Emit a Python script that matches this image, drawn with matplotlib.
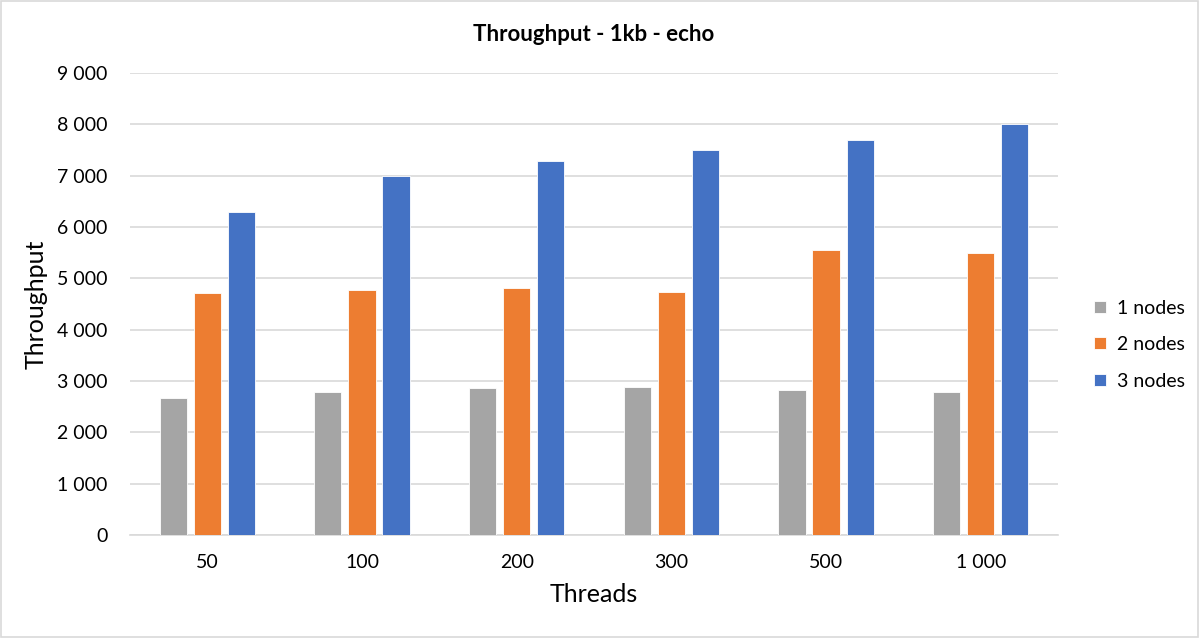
import numpy as np
import matplotlib.pyplot as plt
from matplotlib.ticker import FuncFormatter
from matplotlib.patches import Rectangle

plt.rcParams['font.family'] = ['Lato', 'DejaVu Sans']

# Data
threads = ['50', '100', '200', '300', '500', '1 000']
one_node = [2660, 2790, 2860, 2890, 2830, 2790]
two_nodes = [4710, 4780, 4810, 4740, 5550, 5490]
three_nodes = [6290, 7000, 7290, 7500, 7690, 8000]

series = [('1 nodes', one_node, '#a5a5a5'),
          ('2 nodes', two_nodes, '#ed7d31'),
          ('3 nodes', three_nodes, '#4472c4')]

fig = plt.figure(figsize=(12, 6.38), dpi=100)
ax = fig.add_axes([0.1083, 0.1614, 0.7734, 0.7242])

x = np.arange(len(threads))
width = 0.175
step = 0.22
for i, (name, vals, color) in enumerate(series):
    ax.bar(x + (i - 1) * step, vals, width, color=color, label=name,
           edgecolor='white', linewidth=0.6, zorder=3)

ax.set_xlim(-0.5, len(threads) - 0.5)
ax.set_ylim(0, 9000)
ax.set_yticks(np.arange(0, 9001, 1000))
ax.yaxis.set_major_formatter(FuncFormatter(lambda v, p: f'{int(v):,}'.replace(',', ' ')))
ax.set_xticks(x)
ax.set_xticklabels(threads)
ax.tick_params(axis='both', length=0, labelsize=14, colors='#000000')
ax.tick_params(axis='y', pad=16)
ax.tick_params(axis='x', pad=14)

ax.grid(axis='y', color='#d9d9d9', linewidth=1.2, zorder=0)
for s in ['top', 'right', 'left']:
    ax.spines[s].set_visible(False)
ax.spines['bottom'].set_color('#d9d9d9')
ax.spines['bottom'].set_linewidth(1.2)

ax.set_title('Throughput - 1kb - echo', fontsize=16, fontweight='bold', pad=23)
ax.set_xlabel('Threads', fontsize=18, labelpad=8)
ax.set_ylabel('Throughput', fontsize=18, labelpad=7)

ax.legend(loc='center left', bbox_to_anchor=(1.02, 0.412), frameon=False,
          fontsize=14, handlelength=0.6, handleheight=0.6, labelspacing=1.0,
          handletextpad=0.6)

fig.patches.append(Rectangle((0.001, 0.002), 0.997, 0.996, transform=fig.transFigure,
                             fill=False, edgecolor='#d9d9d9', linewidth=1.2))

fig.savefig('out.png', dpi=100, facecolor='white')
